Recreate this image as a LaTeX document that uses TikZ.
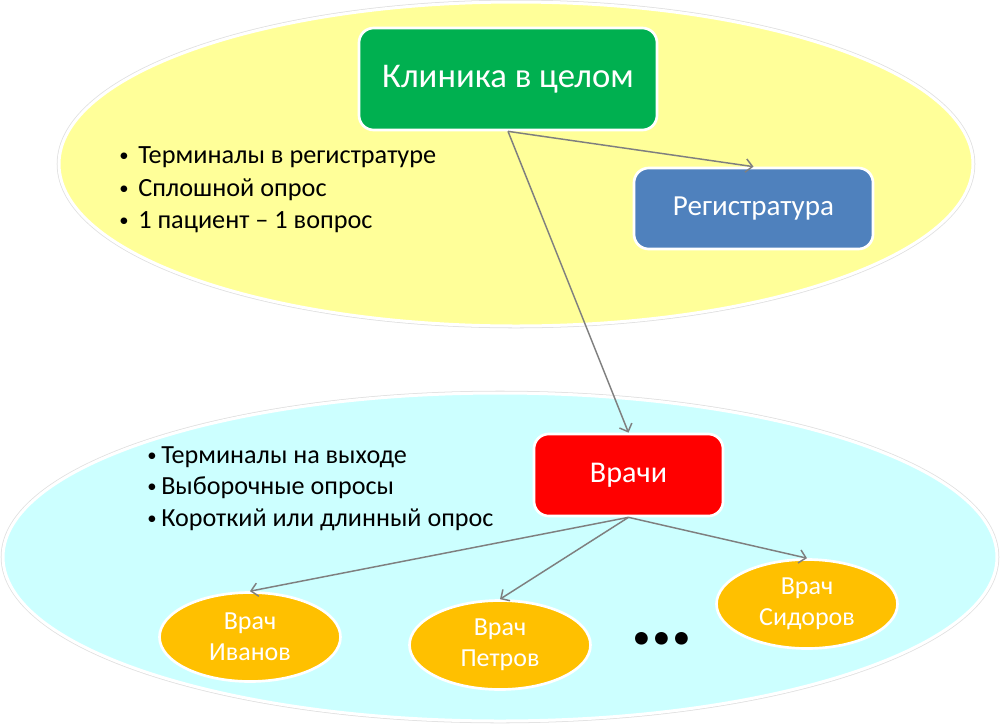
\documentclass[tikz,border=0pt]{standalone}
\usepackage{fontspec}
\setmainfont{Carlito}
\usetikzlibrary{shapes.geometric,arrows.meta}
\definecolor{cyellow}{HTML}{FFFF99}
\definecolor{ccyan}{HTML}{CCFFFF}
\definecolor{cgreen}{HTML}{00B050}
\definecolor{cblue}{HTML}{4F81BD}
\definecolor{cred}{HTML}{FF0000}
\definecolor{corange}{HTML}{FFC000}
\definecolor{carrow}{HTML}{7F7F7F}
\newcommand\mybul[1]{\makebox[#1][l]{\raisebox{1.5pt}{\fontsize{14}{14}\selectfont •}}}
\tikzset{
  bigell/.style={ellipse, inner sep=0pt, draw=white, line width=2.25pt,
    preaction={draw=black!12, line width=3.4pt}},
  boxnode/.style={rectangle, rounded corners=11pt, draw=white, line width=2pt,
    text=white, inner sep=0pt},
  docell/.style={ellipse, fill=corange, draw=white, line width=2pt, text=white,
    inner sep=0pt, minimum width=135.75pt, minimum height=66.75pt,
    align=center, font=\fontsize{19.5}{23.5}\selectfont},
  bul/.style={anchor=base west, inner sep=0pt, font=\fontsize{19.7}{23}\selectfont},
  bulb/.style={anchor=base west, inner sep=0pt, font=\fontsize{19.6}{23}\selectfont},
  conn/.style={draw=carrow, line width=1.1pt, -{Straight Barb[length=5pt,width=10pt]}},
}
\begin{document}
\begin{tikzpicture}[x=0.75pt, y=-0.75pt]
\useasboundingbox (0,0) rectangle (1000,726);
\fill[white] (0,0) rectangle (1000,726);
% big ellipses
\node[bigell, fill=cyellow, minimum width=685.5pt, minimum height=243pt] (top) at (516,164) {};
\node[bigell, fill=ccyan, minimum width=745.5pt, minimum height=246pt] (bot) at (500,557) {};
% boxes
\node[boxnode, fill=cgreen, minimum width=223.5pt, minimum height=76.5pt,
  font=\fontsize{26}{30}\selectfont] (clinic) at (508,79) {Клиника в целом};
\node[boxnode, fill=cblue, minimum width=179.25pt, minimum height=60.75pt,
  font=\fontsize{21.8}{25}\selectfont] (reg) at (753.5,208.5) {Регистратура};
\node[boxnode, fill=cred, minimum width=141.75pt, minimum height=61.5pt,
  font=\fontsize{22.6}{26}\selectfont] (doctors) at (628.5,475) {Врачи};
% doctor ellipses
\node[docell] (ivanov) at (250,637) {Врач\\Иванов};
\node[docell] (petrov) at (500,645) {Врач\\Петров};
\node[docell] (sidorov) at (807,604) {Врач\\Сидоров};
\node[inner sep=0pt, font=\fontsize{64}{64}\selectfont\bfseries] (dots) at (662,639) {.\kern-2.3pt.\kern-2.3pt.};
% bullets top
\node[bul] (t1) at (119,163) {\mybul{14.25pt}Терминалы в регистратуре};
\node[bul] (t2) at (119,196) {\mybul{14.25pt}Сплошной опрос};
\node[bul] (t3) at (119,228) {\mybul{14.25pt}1 пациент – 1 вопрос};
% bullets bottom
\node[bulb] (b1) at (147,463) {\mybul{10.5pt}Терминалы на выходе};
\node[bulb] (b2) at (147,494) {\mybul{10.5pt}Выборочные опросы};
\node[bulb] (b3) at (147,526) {\mybul{10.5pt}Короткий или длинный опрос};
% connectors
\draw[conn] (clinic.south) -- (reg.north);
\draw[conn] (clinic.south) -- (doctors.north);
\draw[conn] (doctors.south) -- (ivanov.north);
\draw[conn] (doctors.south) -- (petrov.north);
\draw[conn] (doctors.south) -- (sidorov.north);
\end{tikzpicture}
\end{document}
